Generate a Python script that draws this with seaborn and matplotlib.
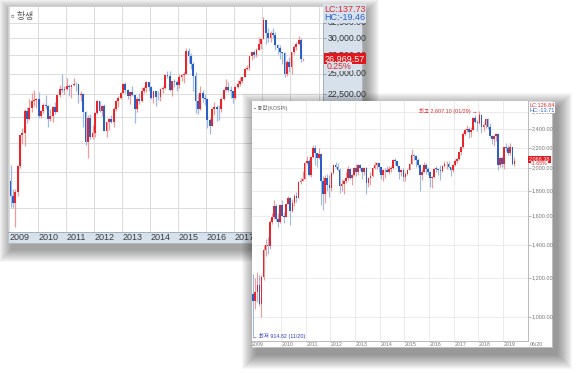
"""Two overlapping monthly candlestick panels: Hang Seng (back) and KOSPI (front)."""

import numpy as np
import matplotlib
matplotlib.use("Agg")
import matplotlib.pyplot as plt
from matplotlib.patches import Rectangle
from matplotlib.ticker import NullLocator
import seaborn as sns

W, H = 580, 373

RED = "#e6262b"
BLUE = "#2b5fc6"
RED_WICK = "#f09a9c"
BLUE_WICK = "#9fb9e6"

# ---------------- Hang Seng (항생), monthly, Jan 2009 - Jun 2019 ----------------
hs_first_year = 2009
hs_open = [
    14387, 13278, 12812, 13576, 15521, 18171, 18379, 20573, 19724, 20955, 21752, 21821,
    21873, 20122, 20609, 21239, 21108, 19765, 20129, 21030, 20537, 22359, 23096, 23008,
    23035, 23447, 23338, 23528, 23721, 23684, 22398, 22440, 20535, 17592, 19864, 17989,
    18434, 20390, 21680, 20556, 21094, 18630, 19441, 19796, 19482, 20840, 21642, 22030,
    22657, 23730, 23020, 22300, 22737, 22392, 20803, 21883, 21731, 22859, 23206, 23881,
    23306, 22035, 22837, 22151, 22134, 23082, 23191, 24757, 24742, 22933, 23998, 23987,
    23605, 24507, 24823, 24901, 28133, 27424, 26250, 24636, 21670, 20846, 22640, 21996,
    21914, 19683, 19112, 20777, 21067, 20815, 20794, 21891, 23023, 23297, 22935, 22790,
    22001, 23361, 23741, 24112, 24615, 25661, 25765, 27324, 27970, 27554, 28246, 29177,
    29919, 32887, 30845, 30093, 30808, 30469, 28955, 28583, 27889, 27789, 24980, 26507,
    25846, 27942, 28633, 29051, 29699, 26901,
]
hs_high = [
    15616, 13780, 13750, 15627, 18227, 18905, 20769, 21083, 21929, 22620, 22943, 22000,
    22688, 20720, 21470, 22388, 21300, 20800, 21100, 21640, 22400, 23550, 24988, 23450,
    24480, 23700, 23600, 24468, 23900, 23700, 22850, 22560, 20600, 20200, 20300, 19200,
    20450, 21760, 21700, 21200, 21400, 19500, 19850, 20200, 21000, 21850, 22250, 22720,
    23800, 23944, 23100, 22800, 23500, 22400, 22100, 22600, 23300, 23400, 24100, 23950,
    23400, 22900, 22900, 22900, 23200, 23400, 24800, 25300, 25362, 23900, 24300, 24200,
    24900, 25000, 25200, 28588, 28500, 27800, 26600, 25200, 22500, 23400, 23000, 22500,
    22000, 19900, 20900, 21600, 21200, 21300, 22100, 23100, 24364, 23900, 23500, 22900,
    23400, 24200, 24600, 24600, 25700, 26100, 27400, 28000, 28300, 28500, 30200, 29700,
    33484, 33000, 31600, 31200, 31600, 31000, 29100, 29000, 28000, 27900, 26800, 27300,
    27900, 28900, 29500, 30280, 30100, 27100,
]
hs_low = [
    12521, 12480, 11300, 13300, 15360, 17380, 17200, 19380, 19680, 20550, 21100, 20900,
    19880, 19890, 20350, 20860, 18971, 19600, 19460, 20260, 20470, 22100, 22700, 22500,
    23020, 22300, 22000, 23500, 22900, 21500, 21700, 19000, 17300, 16170, 17800, 17800,
    18000, 20300, 20500, 20100, 18600, 18056, 18700, 19400, 19000, 20600, 21000, 21900,
    22650, 22600, 21900, 21400, 22300, 19400, 20500, 21400, 21600, 22600, 22700, 22900,
    21900, 21500, 21137, 21800, 21700, 22600, 23100, 24400, 22900, 22300, 23300, 22900,
    23200, 24000, 23800, 24900, 26400, 25600, 22900, 20400, 20300, 20700, 21600, 21300,
    18900, 18278, 19100, 20200, 19600, 19700, 20500, 21800, 22900, 22700, 22000, 21500,
    21900, 23200, 23500, 23800, 24500, 25400, 25400, 26800, 27100, 27300, 28200, 28400,
    29900, 29130, 29500, 29500, 30100, 28300, 27700, 26900, 26200, 24540, 24700, 25200,
    24900, 27700, 28200, 29000, 26600, 26700,
]
hs_close = [
    13278, 12812, 13576, 15521, 18171, 18379, 20573, 19724, 20955, 21752, 21821, 21873,
    20122, 20609, 21239, 21108, 19765, 20129, 21030, 20537, 22359, 23096, 23008, 23035,
    23447, 23338, 23528, 23721, 23684, 22398, 22440, 20535, 17592, 19864, 17989, 18434,
    20390, 21680, 20556, 21094, 18630, 19441, 19796, 19482, 20840, 21642, 22030, 22657,
    23730, 23020, 22300, 22737, 22392, 20803, 21883, 21731, 22859, 23206, 23881, 23306,
    22035, 22837, 22151, 22134, 23082, 23191, 24757, 24742, 22933, 23998, 23987, 23605,
    24507, 24823, 24901, 28133, 27424, 26250, 24636, 21670, 20846, 22640, 21996, 21914,
    19683, 19112, 20777, 21067, 20815, 20794, 21891, 23023, 23297, 22935, 22790, 22001,
    23361, 23741, 24112, 24615, 25661, 25765, 27324, 27970, 27554, 28246, 29177, 29919,
    32887, 30845, 30093, 30808, 30469, 28955, 28583, 27889, 27789, 24980, 26507, 25846,
    27942, 28633, 29051, 29699, 26901, 26970,
]
hs_years = list(range(2009, 2018))
hs_yticks = [12500, 15000, 17500, 20000, 22500, 25000, 27500, 30000, 32500]

# ---------------- KOSPI (종합), monthly, Nov 2008 - Jun 2019 ----------------
ks_first_month = 2008 + 10 / 12  # November 2008
ks_open = [
    1113, 1076,
    1124, 1162, 1063, 1206, 1369, 1396, 1390, 1557, 1591, 1673, 1581, 1555,
    1682, 1602, 1594, 1692, 1741, 1641, 1698, 1759, 1742, 1873, 1882, 1905,
    2051, 2069, 1939, 2106, 2192, 2142, 2100, 2133, 1880, 1769, 1909, 1847,
    1826, 1955, 2030, 2014, 1982, 1843, 1854, 1881, 1906, 1996, 1912, 1933,
    1997, 1962, 2027, 2005, 1964, 2001, 1863, 1914, 1926, 1997, 2030, 2045,
    2011, 1941, 1980, 1986, 1962, 1995, 2002, 2076, 2068, 2020, 1964, 1981,
    1916, 1949, 1986, 2041, 2127, 2115, 2074, 2030, 1941, 1963, 2029, 1992,
    1961, 1912, 1917, 1996, 1994, 1983, 1970, 2016, 2035, 2043, 2008, 1983,
    2026, 2067, 2091, 2160, 2205, 2347, 2392, 2402, 2363, 2394, 2523, 2476,
    2467, 2566, 2427, 2446, 2515, 2423, 2326, 2295, 2323, 2343, 2030, 2097,
    2041, 2205, 2195, 2141, 2204, 2042,
]
ks_high = [
    1220, 1200,
    1230, 1215, 1215, 1400, 1437, 1450, 1570, 1625, 1723, 1690, 1620, 1690,
    1723, 1630, 1700, 1757, 1750, 1730, 1770, 1790, 1880, 1910, 1975, 2060,
    2120, 2090, 2110, 2231, 2230, 2145, 2200, 2140, 1930, 1940, 1950, 1940,
    1960, 2040, 2057, 2050, 2000, 1905, 1890, 1960, 2020, 2000, 1950, 2010,
    2040, 2040, 2040, 2010, 2010, 2010, 1920, 1960, 2010, 2060, 2060, 2050,
    2015, 1990, 2000, 2020, 2020, 2020, 2090, 2093, 2070, 2020, 1990, 2000,
    1960, 1990, 2050, 2190, 2140, 2130, 2100, 2040, 1990, 2060, 2050, 2010,
    1970, 1930, 2000, 2020, 2000, 2030, 2030, 2070, 2070, 2070, 2010, 2040,
    2090, 2100, 2170, 2210, 2370, 2400, 2450, 2420, 2420, 2540, 2560, 2500,
    2607, 2570, 2470, 2520, 2530, 2470, 2330, 2330, 2350, 2350, 2110, 2120,
    2210, 2250, 2230, 2250, 2210, 2110,
]
ks_low = [
    915, 1040,
    1070, 1050, 1000, 1190, 1330, 1340, 1370, 1540, 1580, 1560, 1520, 1550,
    1600, 1552, 1590, 1690, 1532, 1630, 1680, 1710, 1740, 1860, 1880, 1900,
    2040, 1930, 1920, 2100, 2030, 2010, 2090, 1684, 1644, 1700, 1800, 1750,
    1800, 1950, 2000, 1970, 1780, 1800, 1770, 1870, 1890, 1900, 1850, 1930,
    1930, 1940, 1980, 1900, 1940, 1770, 1830, 1850, 1920, 1990, 1990, 1960,
    1900, 1880, 1910, 1960, 1950, 1960, 1990, 2030, 2010, 1900, 1930, 1880,
    1880, 1940, 1980, 2040, 2080, 2010, 2010, 1800, 1890, 1960, 1950, 1940,
    1830, 1820, 1910, 1960, 1940, 1890, 1960, 2010, 1990, 2000, 1930, 1960,
    2020, 2050, 2080, 2130, 2200, 2330, 2370, 2300, 2310, 2390, 2470, 2380,
    2460, 2360, 2380, 2410, 2400, 2310, 2240, 2220, 2270, 1985, 2010, 2010,
    1990, 2170, 2130, 2130, 2030, 2020,
]
ks_close = [
    1076, 1124,
    1162, 1063, 1206, 1369, 1396, 1390, 1557, 1591, 1673, 1581, 1555, 1682,
    1602, 1594, 1692, 1741, 1641, 1698, 1759, 1742, 1873, 1882, 1905, 2051,
    2069, 1939, 2106, 2192, 2142, 2100, 2133, 1880, 1769, 1909, 1847, 1826,
    1955, 2030, 2014, 1982, 1843, 1854, 1881, 1906, 1996, 1912, 1933, 1997,
    1962, 2027, 2005, 1964, 2001, 1863, 1914, 1926, 1997, 2030, 2045, 2011,
    1941, 1980, 1986, 1962, 1995, 2002, 2076, 2068, 2020, 1964, 1981, 1916,
    1949, 1986, 2041, 2127, 2115, 2074, 2030, 1941, 1963, 2029, 1992, 1961,
    1912, 1917, 1996, 1994, 1983, 1970, 2016, 2035, 2043, 2008, 1983, 2026,
    2067, 2091, 2160, 2205, 2347, 2392, 2402, 2363, 2394, 2523, 2476, 2467,
    2566, 2427, 2446, 2515, 2423, 2326, 2295, 2323, 2343, 2030, 2097, 2041,
    2205, 2195, 2141, 2204, 2042, 2068,
]
ks_years = list(range(2009, 2020))
ks_yticks = [1000, 1200, 1400, 1600, 1800, 2000, 2200, 2400, 2600]


def px_axes(fig, x0, y0, x1, y1, **kw):
    """Axes from pixel box given with a top-left origin."""
    return fig.add_axes([x0 / W, 1 - y1 / H, (x1 - x0) / W, (y1 - y0) / H], **kw)


def drop_shadow(fig, x0, y0, x1, y1, dx, dy, spread, zorder, alpha=0.028):
    for k in range(1, spread + 1):
        fig.patches.append(Rectangle(
            ((x0 + dx - k) / W, 1 - (y1 + dy + k) / H),
            (x1 - x0 + 2 * k) / W, (y1 - y0 + 2 * k) / H,
            transform=fig.transFigure, facecolor="#000000", edgecolor="none",
            alpha=alpha, zorder=zorder))


def draw_candles(ax, x, o, h, l, c, width, wick_lw):
    o, h, l, c = (np.asarray(v, dtype=float) for v in (o, h, l, c))
    up = c >= o
    ax.vlines(x, l, h, colors=np.where(up, RED_WICK, BLUE_WICK), lw=wick_lw, zorder=2)
    ax.bar(x, np.maximum(np.abs(c - o), c * 0.002), bottom=np.minimum(o, c),
           width=width, color=np.where(up, RED, BLUE), lw=0, zorder=3)


sns.set_style("white")
plt.rcParams["font.family"] = ["Liberation Sans Narrow", "Liberation Sans",
                               "Noto Sans CJK KR", "DejaVu Sans"]

fig = plt.figure(figsize=(W / 100, H / 100), dpi=100)

# ================= back panel: Hang Seng =================
drop_shadow(fig, 8, 6, 362, 243, 4, 6, 13, zorder=0.2, alpha=0.03)
bg1 = px_axes(fig, 8, 6, 362, 243, zorder=1)
bg1.set_facecolor("#d6e1ec")
bg1.set_xticks([])
bg1.set_yticks([])
for s in bg1.spines.values():
    s.set_color("#b5bcc4")
    s.set_linewidth(0.6)

ax1 = px_axes(fig, 8, 6, 323, 232, zorder=1.1)
ax1.set_facecolor("white")
hs_x = hs_first_year + (np.arange(len(hs_close)) + 0.5) / 12
draw_candles(ax1, hs_x, hs_open, hs_high, hs_low, hs_close, 0.78 / 12, 0.9)
ax1.set_yscale("log")
ax1.set_ylim(11030, 35440)
ax1.set_xlim(2008.95, 2020.16)
ax1.set_yticks(hs_yticks)
ax1.yaxis.set_minor_locator(NullLocator())
ax1.set_yticklabels([])
ax1.set_xticks(list(range(2009, 2021)))
ax1.set_xticklabels([])
ax1.grid(True, color="#dcdcdc", lw=0.7)
ax1.tick_params(axis="x", direction="out", length=11, width=0.6, color="#b8c4d0", pad=0)
ax1.tick_params(axis="y", direction="out", length=2, width=0.6, color="#8a97a6",
                left=False, right=True)
for name, s in ax1.spines.items():
    s.set_color("#9aa7b6" if name in ("right", "bottom") else "#c8c8c8")
    s.set_linewidth(0.6)

for yr in hs_years:
    ax1.text(yr + 0.02, -0.003, str(yr), transform=ax1.get_xaxis_transform(),
             ha="left", va="top", fontsize=6.5, color="#3c3c3c")
for v in hs_yticks:
    ax1.text(1.016, v, f"{v:,.2f}", transform=ax1.get_yaxis_transform(),
             ha="left", va="center", fontsize=6.3, color="#333333", clip_on=False)

ax1.text(0.01, 0.975, "▫ 항생", transform=ax1.transAxes, ha="left", va="top",
         fontsize=6.5, color="#555555")

strip = "#d6e1ec"
ax1.text(1.003, 0.985, "LC:137.73", transform=ax1.transAxes, ha="left", va="center",
         fontsize=6.5, color="#e0262a",
         bbox=dict(boxstyle="square,pad=0.05", fc=strip, ec="none"))
ax1.text(1.003, 0.947, "HC:-19.46", transform=ax1.transAxes, ha="left", va="center",
         fontsize=6.5, color="#2a62c8",
         bbox=dict(boxstyle="square,pad=0.05", fc=strip, ec="none"))
ax1.text(1.006, 26969.57, "26,969.57", transform=ax1.get_yaxis_transform(),
         ha="left", va="center", fontsize=6.5, color="white",
         bbox=dict(boxstyle="square,pad=0.12", fc="#e3161c", ec="none"))
ax1.text(1.012, 25950, "0.25%", transform=ax1.get_yaxis_transform(),
         ha="left", va="center", fontsize=6.3, color="#e0262a",
         bbox=dict(boxstyle="square,pad=0.02", fc=strip, ec="none"))

# ================= front panel: KOSPI =================
drop_shadow(fig, 252, 101, 552, 347, 5, 7, 15, zorder=1.5, alpha=0.03)
bg2 = px_axes(fig, 252, 101, 552, 347, zorder=2)
bg2.set_facecolor("white")
bg2.set_xticks([])
bg2.set_yticks([])
for s in bg2.spines.values():
    s.set_color("#d0d0d0")
    s.set_linewidth(0.5)

ax2 = px_axes(fig, 252, 101, 528, 341, zorder=2.1)
ax2.set_facecolor("white")
ks_x = ks_first_month + (np.arange(len(ks_close)) + 0.5) / 12
draw_candles(ax2, ks_x, ks_open, ks_high, ks_low, ks_close, 0.8 / 12, 0.8)
ax2.set_yscale("log")
ax2.set_ylim(894, 2734)
ax2.set_xlim(2008.824, 2020.01)
ax2.set_yticks(ks_yticks)
ax2.yaxis.set_minor_locator(NullLocator())
ax2.set_yticklabels([])
ax2.set_xticks(ks_years[1:])
ax2.set_xticklabels([])
ax2.grid(True, color="#e8e8e8", lw=0.6)
ax2.tick_params(axis="x", direction="out", length=5, width=0.5, color="#dddddd", pad=0)
ax2.tick_params(axis="y", direction="out", length=2, width=0.5, color="#999999",
                left=False, right=True)
for name, s in ax2.spines.items():
    s.set_color("#b0b0b0" if name in ("right", "bottom") else "none")
    s.set_linewidth(0.6)

for i, yr in enumerate(ks_years):
    xpos = 2008.83 if i == 0 else yr + 0.03
    ax2.text(xpos, -0.006, str(yr), transform=ax2.get_xaxis_transform(),
             ha="left", va="top", fontsize=3.8, color="#777777")
ax2.text(1.008, -0.006, "06/20", transform=ax2.transAxes, ha="left", va="top",
         fontsize=3.8, color="#777777")
for v in ks_yticks:
    ax2.text(1.012, v, f"{v:,.2f}", transform=ax2.get_yaxis_transform(),
             ha="left", va="center", fontsize=4.0, color="#777777", clip_on=False)

ax2.text(0.006, 0.982, "▪ 종합(KOSPI)", transform=ax2.transAxes, ha="left", va="top",
         fontsize=3.9, color="#666666")
ax2.text(1.004, 0.983, "LC:126.84", transform=ax2.transAxes, ha="left", va="center",
         fontsize=4.0, color="#e0262a",
         bbox=dict(boxstyle="square,pad=0.05", fc="white", ec="none"))
ax2.text(1.004, 0.962, "HC:-13.71", transform=ax2.transAxes, ha="left", va="center",
         fontsize=4.0, color="#2a62c8",
         bbox=dict(boxstyle="square,pad=0.05", fc="white", ec="none"))
ax2.text(1.003, 2085, "2,068.38", transform=ax2.get_yaxis_transform(),
         ha="left", va="center", fontsize=4.0, color="white",
         bbox=dict(boxstyle="square,pad=0.2", fc="#e3161c", ec="none"))
ax2.text(1.01, 2040, "-1.65%", transform=ax2.get_yaxis_transform(),
         ha="left", va="center", fontsize=3.8, color="#e0262a",
         bbox=dict(boxstyle="square,pad=0.02", fc="white", ec="none"))

peak_i = int(np.argmax(ks_high))
ax2.text(ks_x[peak_i] - 0.06, ks_high[peak_i], "최고 2,607.10 (01/29) →",
         ha="right", va="center", fontsize=3.9, color="#e0262a")
low_i = int(np.argmin(ks_low))
ax2.text(ks_x[low_i] - 0.05, ks_low[low_i], "← 최저 914.82 (11/20)",
         ha="left", va="center", fontsize=3.9, color="#2d3fbf")

fig.savefig("out.png", dpi=100)
